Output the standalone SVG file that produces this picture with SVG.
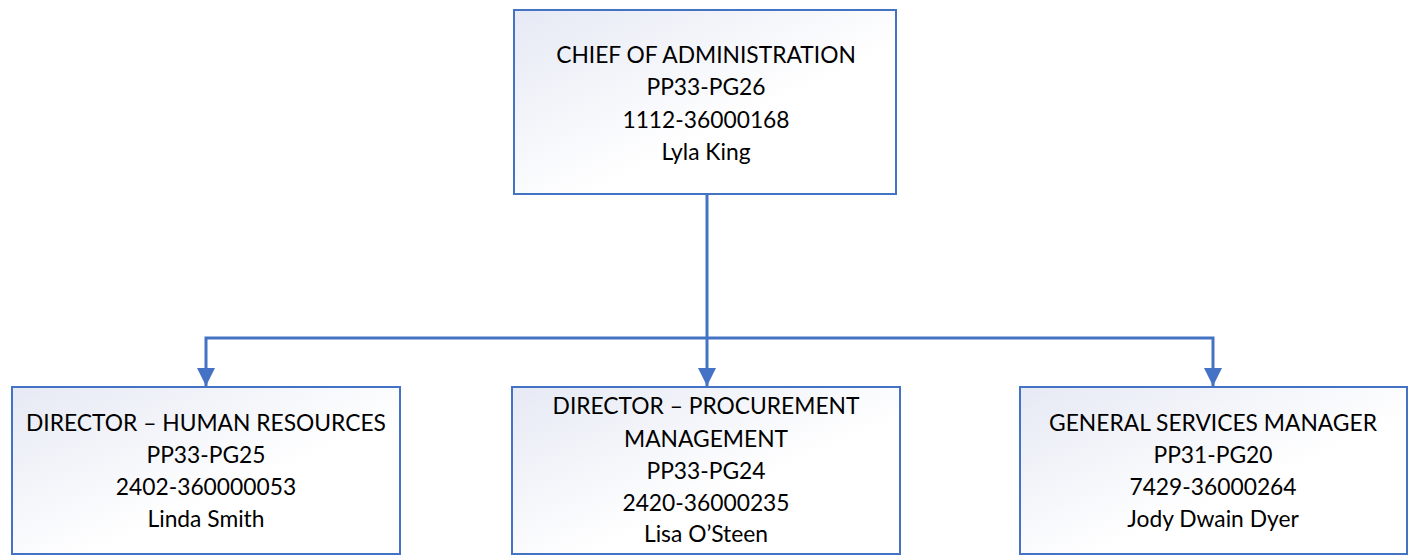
<svg xmlns="http://www.w3.org/2000/svg" width="1416" height="557" viewBox="0 0 1416 557">
  <style>
    .box { stroke: #4472C4; stroke-width: 2; fill: url(#boxFill); }
    .lbl { font-family: Lato, "Liberation Sans", sans-serif; font-size: 22.8px; fill: #000; text-anchor: middle; }
    .wire { fill: none; stroke: #4472C4; stroke-width: 3; }
  </style>
  <defs>
    <linearGradient id="boxFill" x1="0" y1="0" x2="1" y2="1">
      <stop offset="0" stop-color="#E6E9F4"/>
      <stop offset="0.6" stop-color="#FFFFFF"/>
      <stop offset="1" stop-color="#FFFFFF"/>
    </linearGradient>
    <marker id="arrow" viewBox="0 0 10 10" refX="10" refY="5" markerWidth="6" markerHeight="6.3" markerUnits="strokeWidth" orient="auto">
      <path d="M0,0 L10,5 L0,10 Z" fill="#4472C4"/>
    </marker>
  </defs>

  <g id="connectors">
    <path class="wire" d="M707,194 V386" marker-end="url(#arrow)"/>
    <path class="wire" d="M707,338 H206 V386" marker-end="url(#arrow)"/>
    <path class="wire" d="M707,338 H1213 V386" marker-end="url(#arrow)"/>
  </g>

  <g id="chief">
    <rect class="box" x="514" y="10" width="382" height="184"/>
    <text class="lbl" x="706" y="63">CHIEF OF ADMINISTRATION</text>
    <text class="lbl" x="706" y="95">PP33-PG26</text>
    <text class="lbl" x="706" y="128">1112-36000168</text>
    <text class="lbl" x="706" y="160">Lyla King</text>
  </g>

  <g id="hr">
    <rect class="box" x="12" y="387" width="388" height="167"/>
    <text class="lbl" x="206" y="431">DIRECTOR – HUMAN RESOURCES</text>
    <text class="lbl" x="206" y="463">PP33-PG25</text>
    <text class="lbl" x="206" y="495">2402-360000053</text>
    <text class="lbl" x="206" y="527">Linda Smith</text>
  </g>

  <g id="procurement">
    <rect class="box" x="512" y="387" width="388" height="167"/>
    <text class="lbl" x="706" y="414">DIRECTOR – PROCUREMENT</text>
    <text class="lbl" x="706" y="447">MANAGEMENT</text>
    <text class="lbl" x="706" y="479">PP33-PG24</text>
    <text class="lbl" x="706" y="511">2420-36000235</text>
    <text class="lbl" x="706" y="542">Lisa O’Steen</text>
  </g>

  <g id="general-services">
    <rect class="box" x="1020" y="387" width="387" height="167"/>
    <text class="lbl" x="1213" y="431">GENERAL SERVICES MANAGER</text>
    <text class="lbl" x="1213" y="463">PP31-PG20</text>
    <text class="lbl" x="1213" y="495">7429-36000264</text>
    <text class="lbl" x="1213" y="527">Jody Dwain Dyer</text>
  </g>
</svg>
